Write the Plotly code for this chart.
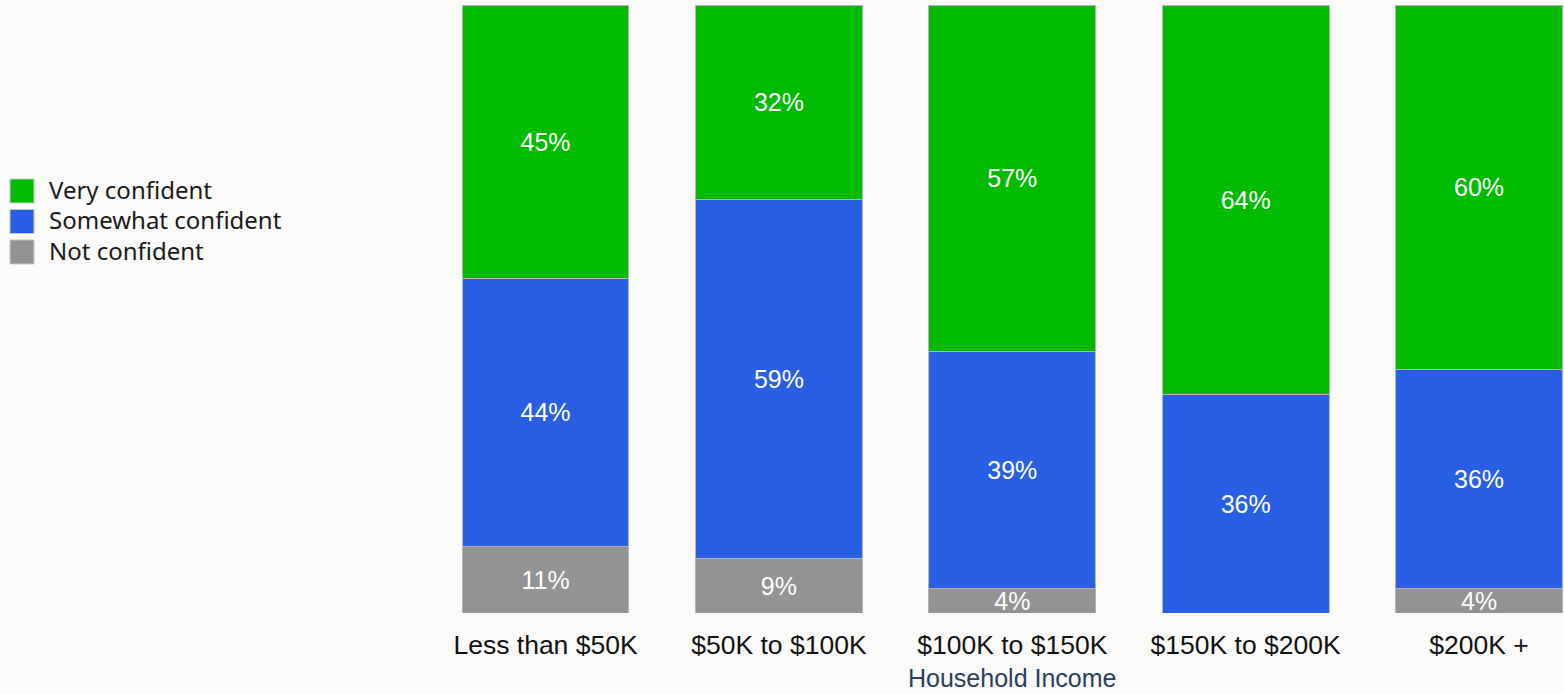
import plotly.graph_objects as go

# Household income brackets and confidence shares (%)
categories = ["Less than $50K", "$50K to $100K", "$100K to $150K", "$150K to $200K", "$200K +"]
very_confident = [45, 32, 57, 64, 60]
somewhat_confident = [44, 59, 39, 36, 36]
not_confident = [11, 9, 4, 0, 4]

series_names = ["Very confident", "Somewhat confident", "Not confident"]
series_colors = ["#00BB00", "#285FE4", "#939393"]
axis_title = "Household Income"

W, H = 1564, 694
M_L, M_R, M_T, M_B = 430, 0, 5, 81
PLOT_W = W - M_L - M_R
PLOT_H = H - M_T - M_B

LABEL_FONT = "Liberation Sans, Arial, sans-serif"
LEGEND_FONT = "Noto Sans, sans-serif"


def pct_labels(values):
    return [f"{v}%" if v else "" for v in values]


fig = go.Figure()

# stacked from the bottom: not confident, somewhat, very
stack = [
    (series_names[2], not_confident, series_colors[2]),
    (series_names[1], somewhat_confident, series_colors[1]),
    (series_names[0], very_confident, series_colors[0]),
]
for name, vals, color in stack:
    fig.add_trace(go.Bar(
        name=name,
        x=categories,
        y=vals,
        text=pct_labels(vals),
        textposition="inside",
        insidetextanchor="middle",
        textfont=dict(family=LABEL_FONT, size=25, color="white"),
        marker=dict(color=color, line=dict(color="#B4B4B4", width=1)),
        hoverinfo="x+y+name",
        showlegend=False,
    ))


def px_to_paper_x(px):
    return (px - M_L) / PLOT_W


def px_to_paper_y(py):
    return (H - M_B - py) / PLOT_H


# custom legend with large swatches on the left
legend_top = 179
legend_step = 30.5
swatch = 24
shapes = []
annotations = []
for i, (name, color) in enumerate(zip(series_names, series_colors)):
    top = legend_top + i * legend_step
    shapes.append(dict(
        type="rect", xref="paper", yref="paper",
        x0=px_to_paper_x(10), x1=px_to_paper_x(10 + swatch),
        y0=px_to_paper_y(top + swatch), y1=px_to_paper_y(top),
        fillcolor=color, line=dict(color="#C8C8C8", width=1),
    ))
    annotations.append(dict(
        xref="paper", yref="paper",
        x=px_to_paper_x(47), y=px_to_paper_y(top + swatch / 2 - 1.5),
        xanchor="left", yanchor="middle",
        text=name, showarrow=False,
        font=dict(family=LEGEND_FONT, size=24, color="#1A1A1A"),
    ))

# x-axis title, centred under the category band
annotations.append(dict(
    xref="paper", yref="paper",
    x=px_to_paper_x(1012), y=px_to_paper_y(694),
    xanchor="center", yanchor="bottom",
    text=axis_title, showarrow=False,
    font=dict(family=LABEL_FONT, size=25, color="#2A3F5F"),
))

fig.update_layout(
    width=W, height=H,
    barmode="stack",
    bargap=0.285,
    margin=dict(l=M_L, r=M_R, t=M_T, b=M_B, pad=0),
    paper_bgcolor="#FAFAF8",
    plot_bgcolor="#FAFAF8",
    showlegend=False,
    shapes=shapes,
    annotations=annotations,
    uniformtext=dict(minsize=25, mode="show"),
    xaxis=dict(
        range=[-0.495, 4.364],
        showgrid=False, zeroline=False, showline=False,
        ticks="", ticklen=0,
        ticklabelstandoff=13,
        tickfont=dict(family=LABEL_FONT, size=26.5, color="#111111"),
    ),
    yaxis=dict(
        range=[0, 100],
        visible=False,
    ),
)

fig.write_html("out.html")
